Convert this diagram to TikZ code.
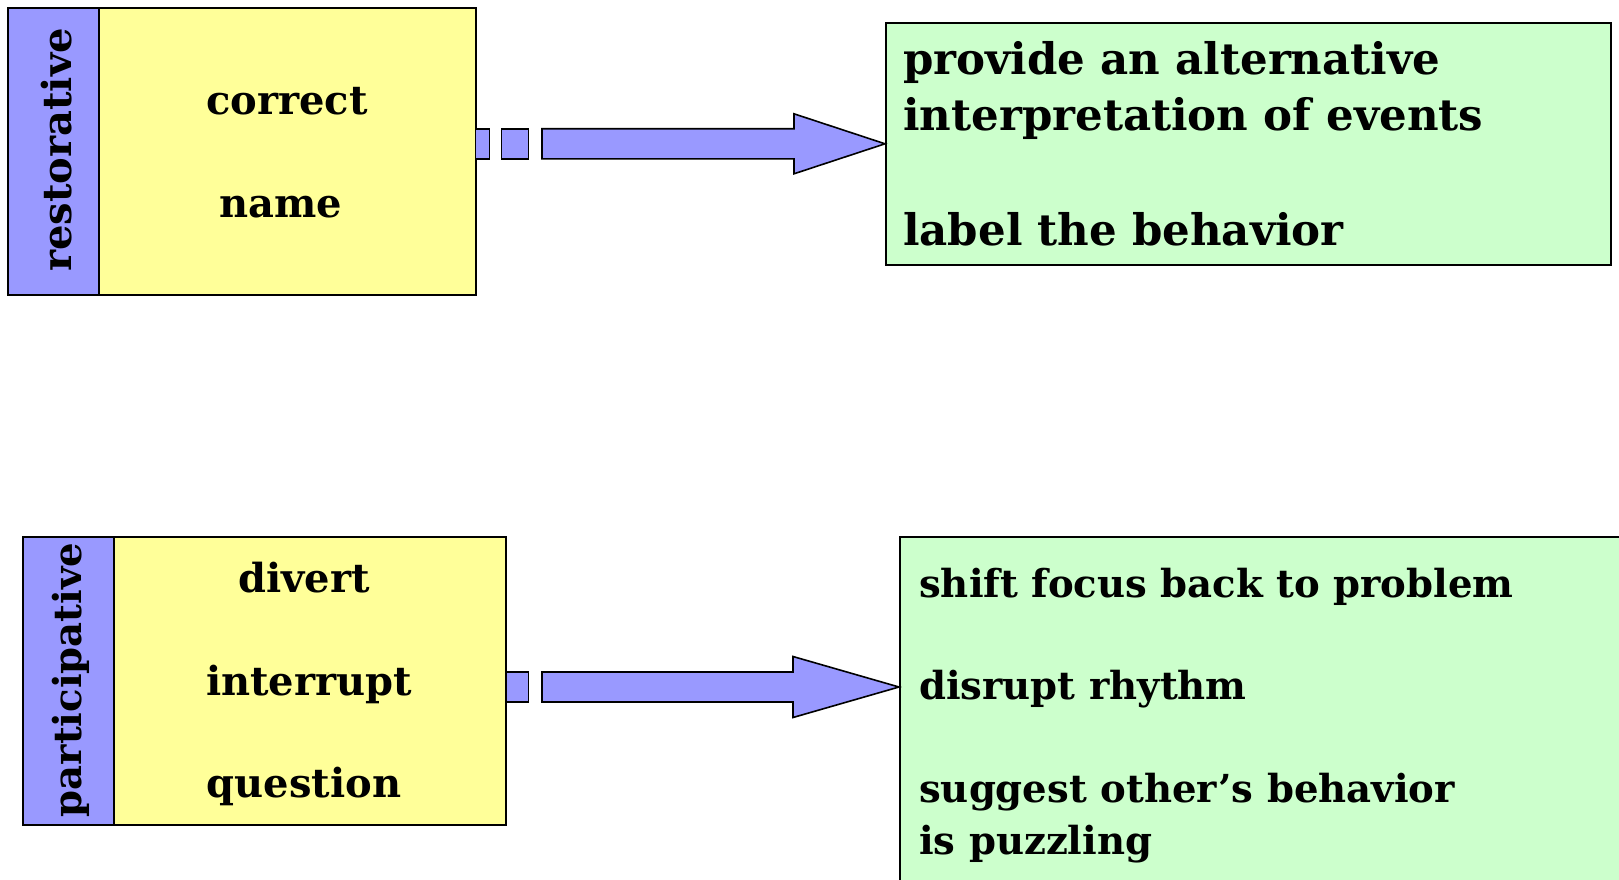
\documentclass[tikz,border=0pt]{standalone}
\usepackage{fontspec}
\setmainfont{DejaVu Serif}
\usetikzlibrary{calc}
\definecolor{bandblue}{HTML}{9999FF}
\definecolor{boxyellow}{HTML}{FFFF99}
\definecolor{boxgreen}{HTML}{CCFFCC}
\tikzset{
  boxbase/.style={draw=black, line width=1.6pt, inner sep=0pt, anchor=north west},
  band/.style={boxbase, fill=bandblue},
  ybox/.style={boxbase, fill=boxyellow},
  gbox/.style={boxbase, fill=boxgreen},
  blk/.style={draw=black, fill=bandblue, line width=1.6pt, line join=miter},
  txt/.style={inner sep=0pt, font=\bfseries\fontsize{40}{48}\selectfont},
  ltxt/.style={txt, anchor=base west},
  bigtxt/.style={ltxt, font=\bfseries\fontsize{43.5}{52}\selectfont},
  smtxt/.style={ltxt, font=\bfseries\fontsize{38.6}{46}\selectfont},
  ctxt/.style={txt, anchor=base},
  rtxt/.style={txt, anchor=base, rotate=90}
}
\begin{document}
\begin{tikzpicture}[x=1pt,y=-1pt]
\useasboundingbox (0,0) rectangle (1619,880);
% top row
\node[band, minimum width=91pt, minimum height=287pt] (tlb) at (7,7) {};
\node[ybox, minimum width=377pt, minimum height=287pt] (tly) at (98,7) {};
\node[gbox, minimum width=725pt, minimum height=242pt] (tr) at (885,22) {};
\node[rtxt] (rest) at (71,150) {restorative};
\node[ctxt] (c1) at (287,115) {correct};
\node[ctxt] (c2) at (281,217) {name};
\node[bigtxt] (g1) at (903,75) {provide an alternative};
\node[bigtxt] (g2) at (903,131) {interpretation of events};
\node[bigtxt] (g3) at (903,245) {label the behavior};
% top arrow
\coordinate (t1) at (tr.west);
\draw[blk] (tly.east |- t1) ++(-1,-15) rectangle ++(14,30);
\draw[blk] ($(tly.east |- t1)+(25,-15)$) rectangle ++(27,30);
\draw[blk] (t1) -- ++(-91,-30) -- ++(0,15) -- ++(-252,0) -- ++(0,30) -- ++(252,0) -- ++(0,15) -- cycle;
% bottom row
\node[band, minimum width=91pt, minimum height=288pt] (blb) at (22,536) {};
\node[ybox, minimum width=392pt, minimum height=288pt] (bly) at (113,536) {};
\node[gbox, minimum width=760pt, minimum height=380pt] (br) at (899,536) {};
\node[rtxt, font=\bfseries\fontsize{38.6}{46}\selectfont] (part) at (81,680) {participative};
\node[ctxt] (d1) at (304,592) {divert};
\node[ctxt] (d2) at (309,695) {interrupt};
\node[ctxt] (d3) at (304,797) {question};
\node[smtxt] (h1) at (919,597) {shift focus back to problem};
\node[smtxt] (h2) at (919,699) {disrupt rhythm};
\node[smtxt] (h3) at (919,802) {suggest other’s behavior};
\node[smtxt] (h4) at (919,854) {is puzzling};
% bottom arrow
\coordinate (t2) at (br.west |- 0,687);
\draw[blk] (bly.east |- t2) ++(0,-15) rectangle ++(22,30);
\draw[blk] (t2) -- ++(-106,-30.5) -- ++(0,15.5) -- ++(-251,0) -- ++(0,30) -- ++(251,0) -- ++(0,15.5) -- cycle;
\end{tikzpicture}
\end{document}
